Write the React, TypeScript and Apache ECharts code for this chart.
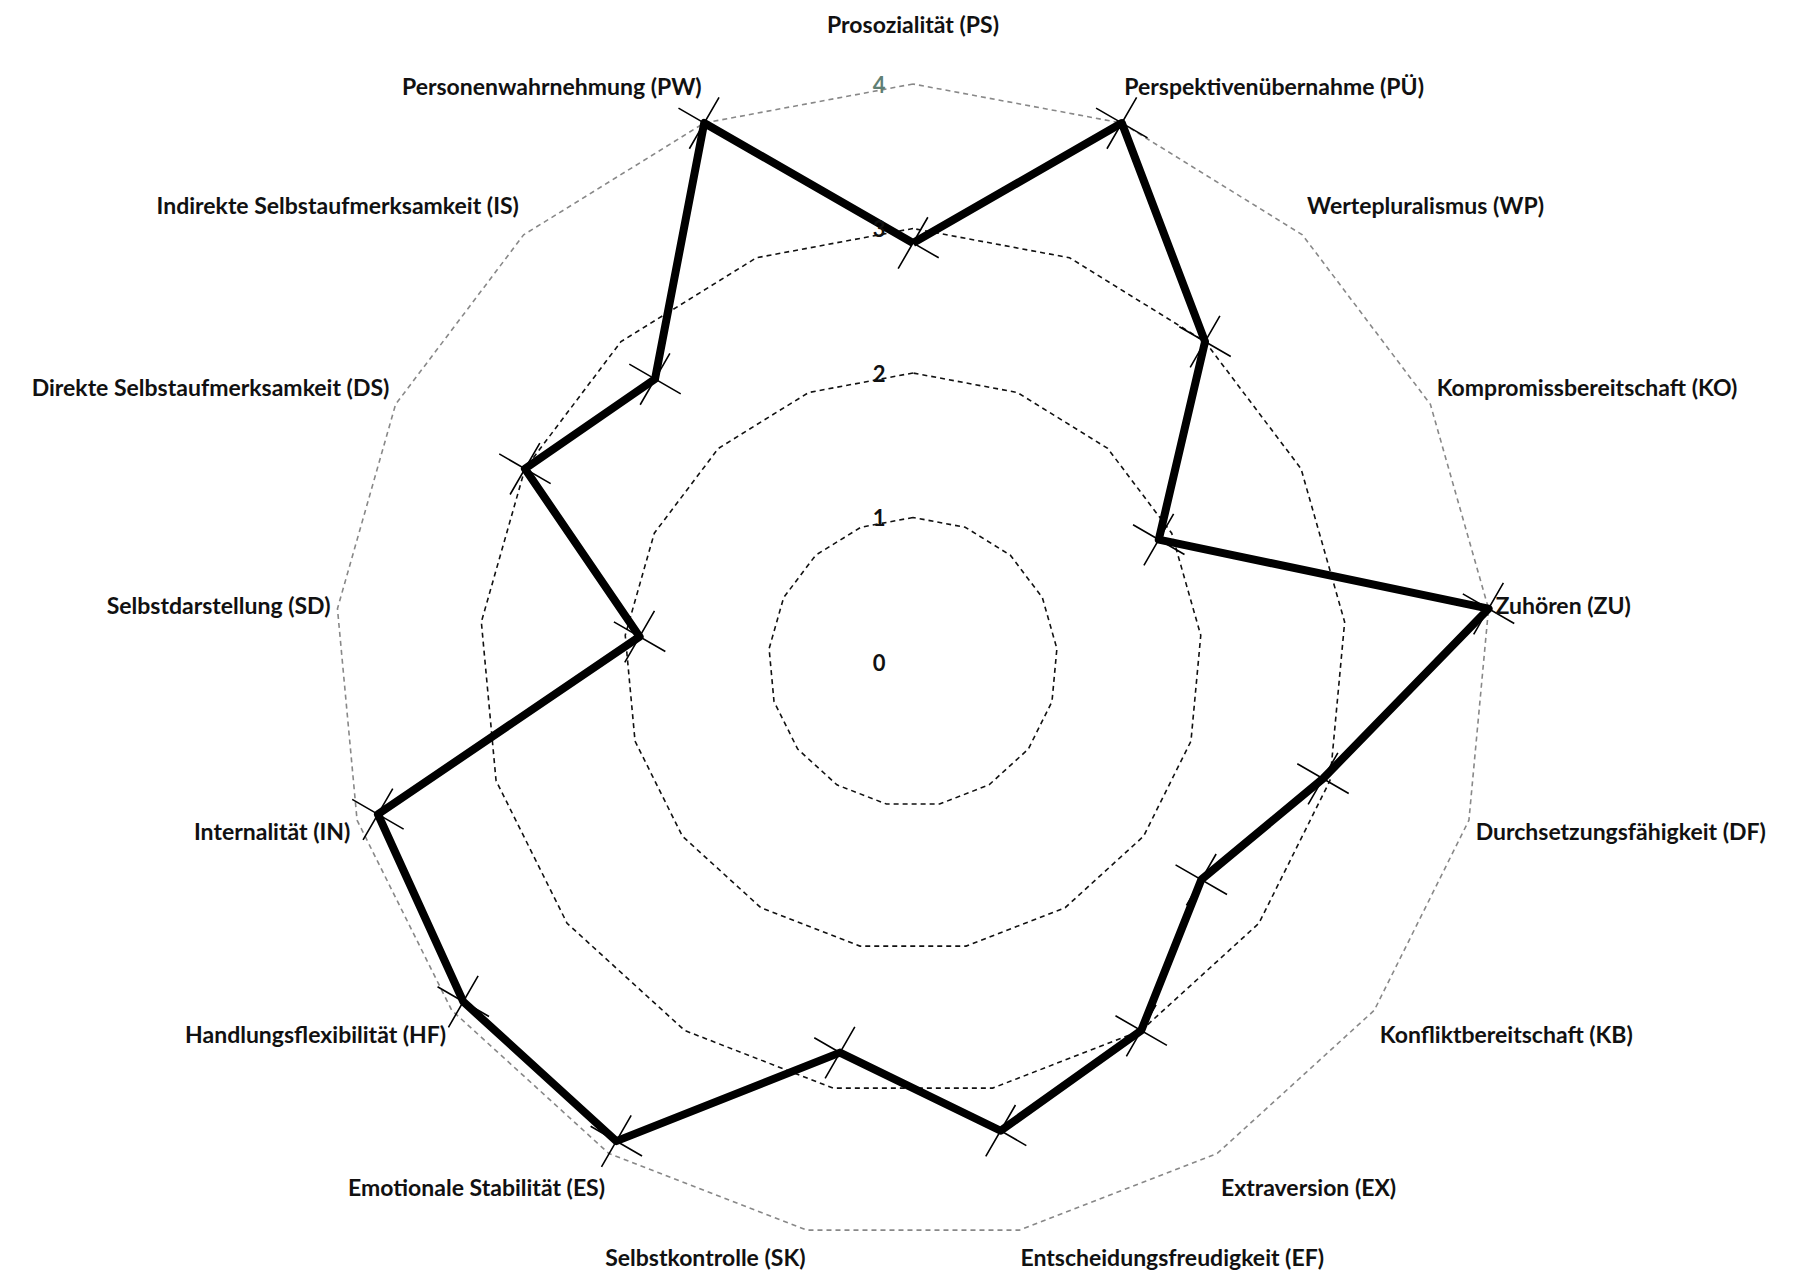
import React, { useEffect, useRef } from 'react';
import * as echarts from 'echarts';

// Categories listed clockwise starting at the top
const categories = [
  'Prosozialität (PS)',
  'Perspektivenübernahme (PÜ)',
  'Wertepluralismus (WP)',
  'Kompromissbereitschaft (KO)',
  'Zuhören (ZU)',
  'Durchsetzungsfähigkeit (DF)',
  'Konfliktbereitschaft (KB)',
  'Extraversion (EX)',
  'Entscheidungsfreudigkeit (EF)',
  'Selbstkontrolle (SK)',
  'Emotionale Stabilität (ES)',
  'Handlungsflexibilität (HF)',
  'Internalität (IN)',
  'Selbstdarstellung (SD)',
  'Direkte Selbstaufmerksamkeit (DS)',
  'Indirekte Selbstaufmerksamkeit (IS)',
  'Personenwahrnehmung (PW)',
];
const scores = [2.9, 4, 3, 1.9, 4, 2.95, 2.5, 3, 3.3, 2.75, 3.9, 3.9, 3.85, 1.9, 3, 2.65, 4];
const tickLabels = ['0', '1', '2', '3', '4'];
const maxValue = 4;

// layout
const CX = 913;
const CY = 662;
const R = 578;
const LABEL_RX = 585;
const LABEL_RY = 618;
const FONT = 'Lato';

// ECharts radar places indicators counter-clockwise; reorder so they appear clockwise
const order = [0, ...categories.slice(1).map((_, i) => categories.length - 1 - i)];

export default function App() {
  const ref = useRef<HTMLDivElement>(null);
  useEffect(() => {
    document.body.style.margin = '0';
    if (!ref.current) return;
    const chart = echarts.init(ref.current, undefined, { renderer: 'svg' });
    const indicator = order.map((i) => ({ name: categories[i], max: maxValue, min: 0 }));
    const data = order.map((i) => scores[i]);

    const tickTexts = tickLabels.map((t, i) => ({
      type: 'text',
      x: CX - 34,
      y: CY - (i * R) / (tickLabels.length - 1),
      style: {
        text: t,
        fontSize: 22,
        fontWeight: 'bold',
        fontFamily: FONT,
        fill: i === tickLabels.length - 1 ? '#5f7f74' : '#111',
        align: 'center',
        verticalAlign: 'middle',
      },
      z: 10,
    }));

    const n = categories.length;
    const nameTexts = categories.map((name, i) => {
      const a = (i * 2 * Math.PI) / n;
      const s = Math.sin(a);
      const c = Math.cos(a);
      const extra = Math.abs(s) < 0.05 ? 20 : 0;
      const x = CX + LABEL_RX * s;
      const y = Math.min(1257, CY - (LABEL_RY + extra) * c);
      return {
        type: 'text',
        x,
        y,
        style: {
          text: name,
          fontSize: 23,
          fontWeight: 'bold',
          fontFamily: FONT,
          fill: '#111',
          align: Math.abs(s) < 0.05 ? 'center' : s > 0 ? 'left' : 'right',
          verticalAlign: 'middle',
        },
        z: 10,
      };
    });

    chart.setOption({
      animation: false,
      backgroundColor: '#fff',
      radar: {
        center: [CX, CY],
        radius: R,
        startAngle: 90,
        shape: 'polygon',
        splitNumber: 4,
        indicator,
        axisName: { show: false },
        axisLine: { show: false },
        axisTick: { show: false },
        axisLabel: { show: false },
        splitArea: { show: false },
        splitLine: {
          lineStyle: {
            color: ['#111', '#111', '#111', '#111', '#888'],
            width: 1.6,
            type: [5, 4],
          },
        },
      },
      graphic: [...tickTexts, ...nameTexts],
      series: [
        {
          type: 'radar',
          symbol: 'path://M0,0 L20,20 M20,0 L0,20',
          symbolSize: 42,
          symbolRotate: 15,
          itemStyle: { color: 'transparent', borderColor: '#000', borderWidth: 1.6 },
          lineStyle: { color: '#000', width: 8, join: 'round' },
          data: [{ value: data, name: 'Profil' }],
        },
      ],
    });
    return () => chart.dispose();
  }, []);
  return (
    <div
      ref={ref}
      style={{ position: 'fixed', left: 0, top: 0, width: 1797, height: 1276, background: '#fff' }}
    />
  );
}
